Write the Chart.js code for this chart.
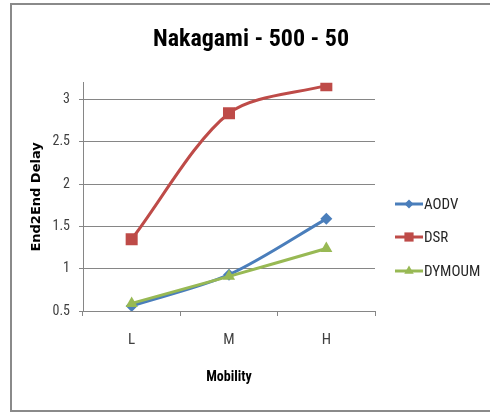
<!DOCTYPE html>
<html>
<head>
<meta charset="utf-8">
<script src="https://cdn.jsdelivr.net/npm/chart.js@4.4.1/dist/chart.umd.min.js"></script>
<style>
html,body{margin:0;padding:0;background:#fff;}
#wrap{width:490px;height:413px;position:relative;}
</style>
</head>
<body>
<div id="wrap"><canvas id="c" width="490" height="413"></canvas></div>
<script>
// ---- data ----
const categories = ['L', 'M', 'H'];
const seriesNames = ['AODV', 'DSR', 'DYMOUM'];
const aodvValues = [0.56, 0.93, 1.59];
const dsrValues = [1.35, 2.84, 3.17];
const dymoumValues = [0.59, 0.91, 1.24];
const yAxisMin = 0.5;
const yAxisMax = 3.2;
const yAxisStep = 0.5;
const chartTitle = 'Nakagami - 500 - 50';
const xAxisTitle = 'Mobility';
const yAxisTitle = 'End2End Delay';

// ---- styles ----
const NARROW = "'Liberation Sans Narrow', 'Roboto Condensed', Arial, sans-serif";
const colors = ['#4A7EBB', '#BE4B48', '#98B954'];
const pointStyles = ['rectRot', 'rect', 'triangle'];
const pointRadii = [6, 8.5, 7];
const legendRadii = [4.5, 6.5, 5.5];
const gridColor = '#868686';

const seriesValues = [aodvValues, dsrValues, dymoumValues];
const tensions = [0.3, 0.3, 0.3];
const orders = [3, 2, 1];

const datasets = seriesNames.map((name, i) => ({
  label: name,
  data: seriesValues[i],
  borderColor: colors[i],
  backgroundColor: colors[i],
  borderWidth: 3,
  pointStyle: pointStyles[i],
  pointRadius: pointRadii[i],
  pointHoverRadius: pointRadii[i],
  pointBorderWidth: 0,
  pointBackgroundColor: colors[i],
  tension: tensions[i],
  order: orders[i],
  fill: false
}));

const framePlugin = {
  id: 'frame',
  beforeDraw(chart) {
    const ctx = chart.ctx;
    ctx.save();
    ctx.fillStyle = '#fff';
    ctx.fillRect(0, 0, chart.width, chart.height);
    ctx.strokeStyle = '#8a8a8a';
    ctx.lineWidth = 2;
    ctx.strokeRect(11, 4, chart.width + 10, 407);
    ctx.restore();
  }
};

const legendPlugin = {
  id: 'sideLegend',
  afterDraw(chart) {
    const ctx = chart.ctx;
    const x0 = chart.chartArea.right + 20;
    const lineLen = 28;
    const rows = [204, 237, 271];
    ctx.save();
    chart.data.datasets.forEach((ds, i) => {
      const y = rows[i];
      ctx.strokeStyle = ds.borderColor;
      ctx.lineWidth = 3;
      ctx.beginPath();
      ctx.moveTo(x0, y);
      ctx.lineTo(x0 + lineLen, y);
      ctx.stroke();
      ctx.fillStyle = ds.borderColor;
      ctx.strokeStyle = ds.borderColor;
      ctx.lineWidth = 0.01;
      Chart.helpers.drawPoint(ctx, {pointStyle: ds.pointStyle, radius: legendRadii[i], rotation: 0, borderWidth: 0}, x0 + lineLen / 2, y);
      ctx.fillStyle = '#262626';
      ctx.font = '15px ' + NARROW;
      ctx.textBaseline = 'middle';
      ctx.textAlign = 'left';
      ctx.fillText(ds.label, x0 + lineLen + 1, y + 1);
    });
    ctx.restore();
  }
};

new Chart(document.getElementById('c'), {
  type: 'line',
  data: { labels: categories, datasets: datasets },
  options: {
    responsive: false,
    devicePixelRatio: 1,
    animation: false,
    layout: { padding: { left: 12, right: 0, top: 0, bottom: 22 } },
    plugins: {
      legend: { display: false },
      tooltip: { enabled: false },
      title: {
        display: true,
        text: chartTitle,
        color: '#000',
        font: { family: NARROW, size: 24, weight: 'bold' },
        padding: { top: 26, bottom: 28 }
      }
    },
    scales: {
      x: {
        offset: true,
        grid: { display: true, drawOnChartArea: false, offset: true, color: gridColor, tickLength: 5 },
        border: { display: true, color: gridColor },
        ticks: { color: '#404040', font: { family: NARROW, size: 15 }, padding: 15, maxRotation: 0 },
        title: { display: true, text: xAxisTitle, color: '#000', font: { family: NARROW, size: 14, weight: 'bold' }, padding: { top: 0, bottom: 5 } },
        afterFit(s) { s.height = 80; }
      },
      y: {
        min: yAxisMin,
        max: yAxisMax,
        grid: { color: gridColor, tickLength: 4 },
        border: { display: true, color: gridColor },
        ticks: {
          stepSize: yAxisStep, includeBounds: false, color: '#404040',
          font: { family: NARROW, size: 14 }, padding: 9,
          callback: (v) => String(Math.round(v * 10) / 10)
        },
        title: { display: true, text: yAxisTitle, color: '#000', font: { family: "'DejaVu Sans', sans-serif", size: 13, weight: 'bold' }, padding: { top: 17, bottom: 0 } },
        afterFit(s) { s.width = 71; }
      },
      legendSpace: {
        type: 'linear',
        position: 'right',
        display: true,
        grid: { display: false },
        border: { display: false },
        ticks: { display: false },
        afterFit(s) { s.width = 115; }
      }
    }
  },
  plugins: [framePlugin, legendPlugin]
});
</script>
</body>
</html>
